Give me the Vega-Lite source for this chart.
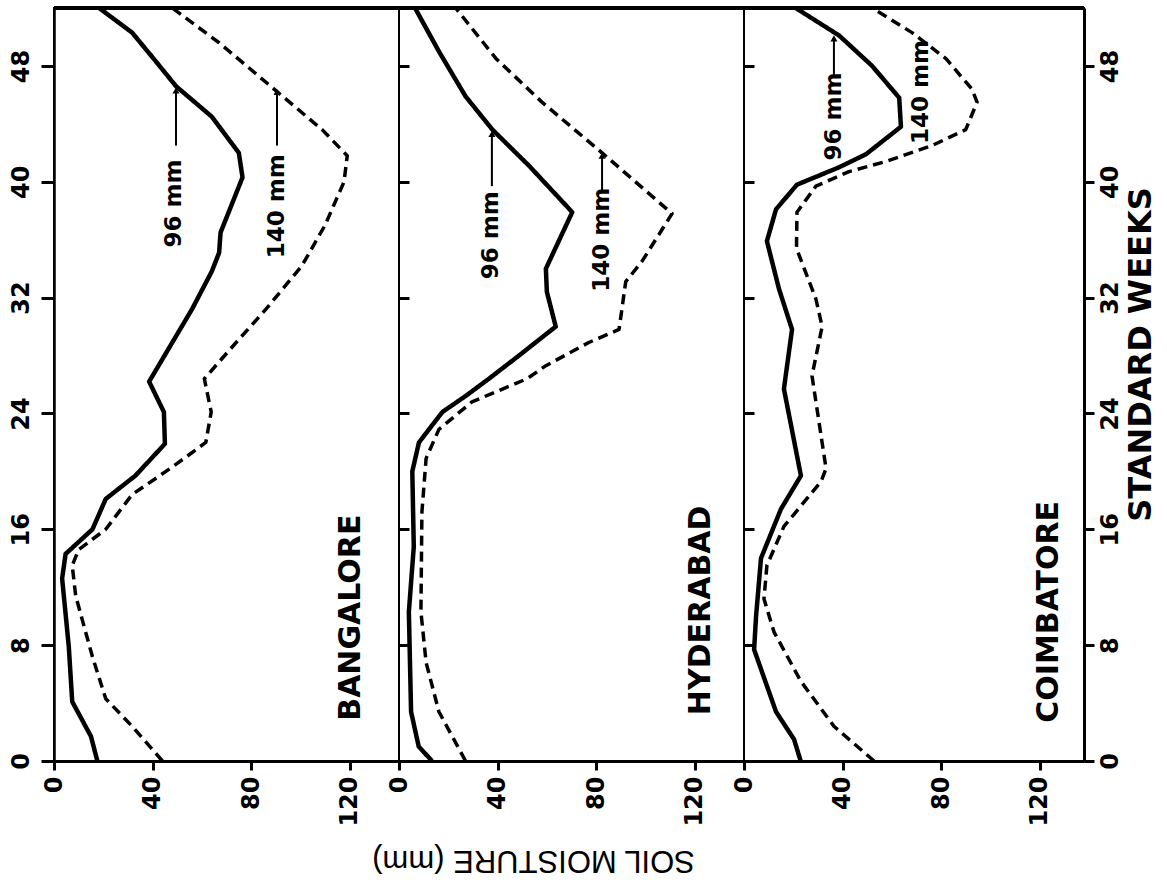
{
  "$schema": "https://vega.github.io/schema/vega-lite/v6.json",
  "padding": {"left": 7, "top": 4, "right": 0, "bottom": 45},
  "spacing": 0,
  "bounds": "flush",
  "config": {
    "view": {"stroke": "black", "strokeWidth": 2},
    "axis": {"domainColor": "black", "tickColor": "black", "labelColor": "black", "titleColor": "black", "grid": false}
  },
  "datasets": {
    "curves": [
      {"site":"BANGALORE","series":"96 mm","week":0,"mm":17.6},{"site":"BANGALORE","series":"96 mm","week":1.7,"mm":15},{"site":"BANGALORE","series":"96 mm","week":4.1,"mm":7.4},{"site":"BANGALORE","series":"96 mm","week":7.9,"mm":6},{"site":"BANGALORE","series":"96 mm","week":12.6,"mm":3.3},{"site":"BANGALORE","series":"96 mm","week":14.3,"mm":4.7},{"site":"BANGALORE","series":"96 mm","week":16,"mm":15.6},{"site":"BANGALORE","series":"96 mm","week":18.1,"mm":21},{"site":"BANGALORE","series":"96 mm","week":19.7,"mm":33},{"site":"BANGALORE","series":"96 mm","week":21.9,"mm":45},{"site":"BANGALORE","series":"96 mm","week":24.1,"mm":44.6},{"site":"BANGALORE","series":"96 mm","week":26.2,"mm":38.6},{"site":"BANGALORE","series":"96 mm","week":28.9,"mm":48},{"site":"BANGALORE","series":"96 mm","week":31.2,"mm":56},{"site":"BANGALORE","series":"96 mm","week":33.8,"mm":64},{"site":"BANGALORE","series":"96 mm","week":35.1,"mm":67},{"site":"BANGALORE","series":"96 mm","week":36.5,"mm":67.6},{"site":"BANGALORE","series":"96 mm","week":40.3,"mm":76.5},{"site":"BANGALORE","series":"96 mm","week":42,"mm":75},{"site":"BANGALORE","series":"96 mm","week":44.5,"mm":64},{"site":"BANGALORE","series":"96 mm","week":46.6,"mm":49.5},{"site":"BANGALORE","series":"96 mm","week":48.3,"mm":41.4},{"site":"BANGALORE","series":"96 mm","week":50.3,"mm":31.7},{"site":"BANGALORE","series":"96 mm","week":52,"mm":18.3},
      {"site":"BANGALORE","series":"140 mm","week":0,"mm":44},{"site":"BANGALORE","series":"140 mm","week":2.4,"mm":31.7},{"site":"BANGALORE","series":"140 mm","week":4.3,"mm":21},{"site":"BANGALORE","series":"140 mm","week":7.2,"mm":15.6},{"site":"BANGALORE","series":"140 mm","week":11.4,"mm":8.8},{"site":"BANGALORE","series":"140 mm","week":13.5,"mm":7.4},{"site":"BANGALORE","series":"140 mm","week":14.6,"mm":10},{"site":"BANGALORE","series":"140 mm","week":16,"mm":21},{"site":"BANGALORE","series":"140 mm","week":18.4,"mm":31.7},{"site":"BANGALORE","series":"140 mm","week":20.3,"mm":48},{"site":"BANGALORE","series":"140 mm","week":22,"mm":61.6},{"site":"BANGALORE","series":"140 mm","week":24.1,"mm":63.8},{"site":"BANGALORE","series":"140 mm","week":26.4,"mm":61},{"site":"BANGALORE","series":"140 mm","week":28.9,"mm":73.9},{"site":"BANGALORE","series":"140 mm","week":31.2,"mm":86},{"site":"BANGALORE","series":"140 mm","week":34.2,"mm":100.6},{"site":"BANGALORE","series":"140 mm","week":37,"mm":110},{"site":"BANGALORE","series":"140 mm","week":40,"mm":117.7},{"site":"BANGALORE","series":"140 mm","week":41.8,"mm":119},{"site":"BANGALORE","series":"140 mm","week":43.6,"mm":108.8},{"site":"BANGALORE","series":"140 mm","week":46.5,"mm":88.6},{"site":"BANGALORE","series":"140 mm","week":49.6,"mm":67},{"site":"BANGALORE","series":"140 mm","week":52,"mm":48},
      {"site":"HYDERABAD","series":"96 mm","week":0,"mm":13.4},{"site":"HYDERABAD","series":"96 mm","week":1,"mm":8},{"site":"HYDERABAD","series":"96 mm","week":3.4,"mm":4.9},{"site":"HYDERABAD","series":"96 mm","week":10.3,"mm":4},{"site":"HYDERABAD","series":"96 mm","week":14.8,"mm":6},{"site":"HYDERABAD","series":"96 mm","week":20,"mm":5.4},{"site":"HYDERABAD","series":"96 mm","week":22,"mm":8.1},{"site":"HYDERABAD","series":"96 mm","week":24.1,"mm":17.6},{"site":"HYDERABAD","series":"96 mm","week":25.2,"mm":27},{"site":"HYDERABAD","series":"96 mm","week":26.4,"mm":36.5},{"site":"HYDERABAD","series":"96 mm","week":28,"mm":48.7},{"site":"HYDERABAD","series":"96 mm","week":30,"mm":63.6},{"site":"HYDERABAD","series":"96 mm","week":32.4,"mm":60},{"site":"HYDERABAD","series":"96 mm","week":34,"mm":59.6},{"site":"HYDERABAD","series":"96 mm","week":37.9,"mm":70.3},{"site":"HYDERABAD","series":"96 mm","week":41.1,"mm":52.8},{"site":"HYDERABAD","series":"96 mm","week":43.6,"mm":37.9},{"site":"HYDERABAD","series":"96 mm","week":45.9,"mm":27},{"site":"HYDERABAD","series":"96 mm","week":49,"mm":16.2},{"site":"HYDERABAD","series":"96 mm","week":52,"mm":6.5},
      {"site":"HYDERABAD","series":"140 mm","week":0,"mm":27},{"site":"HYDERABAD","series":"140 mm","week":3.4,"mm":16.2},{"site":"HYDERABAD","series":"140 mm","week":6.8,"mm":11},{"site":"HYDERABAD","series":"140 mm","week":10.3,"mm":8.9},{"site":"HYDERABAD","series":"140 mm","week":17.2,"mm":9.3},{"site":"HYDERABAD","series":"140 mm","week":20.9,"mm":11},{"site":"HYDERABAD","series":"140 mm","week":22.9,"mm":16.2},{"site":"HYDERABAD","series":"140 mm","week":24.8,"mm":29.6},{"site":"HYDERABAD","series":"140 mm","week":26.4,"mm":52},{"site":"HYDERABAD","series":"140 mm","week":27.3,"mm":59.6},{"site":"HYDERABAD","series":"140 mm","week":28.9,"mm":77},{"site":"HYDERABAD","series":"140 mm","week":29.8,"mm":89.3},{"site":"HYDERABAD","series":"140 mm","week":33.1,"mm":92},{"site":"HYDERABAD","series":"140 mm","week":34.5,"mm":98.6},{"site":"HYDERABAD","series":"140 mm","week":37.8,"mm":110.8},{"site":"HYDERABAD","series":"140 mm","week":42,"mm":82.4},{"site":"HYDERABAD","series":"140 mm","week":45.5,"mm":58},{"site":"HYDERABAD","series":"140 mm","week":48.5,"mm":39.4},{"site":"HYDERABAD","series":"140 mm","week":52,"mm":23},
      {"site":"COIMBATORE","series":"96 mm","week":0,"mm":23},{"site":"COIMBATORE","series":"96 mm","week":1.5,"mm":20.3},{"site":"COIMBATORE","series":"96 mm","week":3.4,"mm":13},{"site":"COIMBATORE","series":"96 mm","week":7.7,"mm":4.1},{"site":"COIMBATORE","series":"96 mm","week":10,"mm":4.9},{"site":"COIMBATORE","series":"96 mm","week":14,"mm":6.9},{"site":"COIMBATORE","series":"96 mm","week":17.4,"mm":15},{"site":"COIMBATORE","series":"96 mm","week":19.7,"mm":23.1},{"site":"COIMBATORE","series":"96 mm","week":25.7,"mm":16.2},{"site":"COIMBATORE","series":"96 mm","week":29.8,"mm":19.5},{"site":"COIMBATORE","series":"96 mm","week":32.6,"mm":14.2},{"site":"COIMBATORE","series":"96 mm","week":35.9,"mm":9.3},{"site":"COIMBATORE","series":"96 mm","week":38.1,"mm":13},{"site":"COIMBATORE","series":"96 mm","week":39.8,"mm":21.5},{"site":"COIMBATORE","series":"96 mm","week":41,"mm":38.6},{"site":"COIMBATORE","series":"96 mm","week":41.9,"mm":49.5},{"site":"COIMBATORE","series":"96 mm","week":43.8,"mm":63.7},{"site":"COIMBATORE","series":"96 mm","week":45.8,"mm":63},{"site":"COIMBATORE","series":"96 mm","week":48,"mm":52},{"site":"COIMBATORE","series":"96 mm","week":50.1,"mm":38.6},{"site":"COIMBATORE","series":"96 mm","week":52,"mm":21},
      {"site":"COIMBATORE","series":"140 mm","week":0,"mm":52.8},{"site":"COIMBATORE","series":"140 mm","week":2.4,"mm":36.5},{"site":"COIMBATORE","series":"140 mm","week":5.5,"mm":23.1},{"site":"COIMBATORE","series":"140 mm","week":8.9,"mm":12.2},{"site":"COIMBATORE","series":"140 mm","week":11.2,"mm":8.1},{"site":"COIMBATORE","series":"140 mm","week":13.5,"mm":9.3},{"site":"COIMBATORE","series":"140 mm","week":16.2,"mm":16.2},{"site":"COIMBATORE","series":"140 mm","week":19.3,"mm":31.3},{"site":"COIMBATORE","series":"140 mm","week":20.2,"mm":33.3},{"site":"COIMBATORE","series":"140 mm","week":26.6,"mm":27.6},{"site":"COIMBATORE","series":"140 mm","week":30,"mm":31.7},{"site":"COIMBATORE","series":"140 mm","week":31.9,"mm":29.2},{"site":"COIMBATORE","series":"140 mm","week":35.4,"mm":21.3},{"site":"COIMBATORE","series":"140 mm","week":37.9,"mm":21.5},{"site":"COIMBATORE","series":"140 mm","week":39.7,"mm":29.2},{"site":"COIMBATORE","series":"140 mm","week":40.7,"mm":42.6},{"site":"COIMBATORE","series":"140 mm","week":41.4,"mm":57.6},{"site":"COIMBATORE","series":"140 mm","week":42.5,"mm":76.3},{"site":"COIMBATORE","series":"140 mm","week":43.6,"mm":90},{"site":"COIMBATORE","series":"140 mm","week":45.5,"mm":94.6},{"site":"COIMBATORE","series":"140 mm","week":46.4,"mm":92.5},{"site":"COIMBATORE","series":"140 mm","week":48.5,"mm":82},{"site":"COIMBATORE","series":"140 mm","week":50.3,"mm":68.2},{"site":"COIMBATORE","series":"140 mm","week":52,"mm":52}
    ],
    "arrows": [
      {"site":"BANGALORE","mm":49.5,"w1":42.5,"w2":46.3},
      {"site":"BANGALORE","mm":90.5,"w1":42.5,"w2":46.2},
      {"site":"HYDERABAD","mm":37.7,"w1":39.7,"w2":43.3},
      {"site":"HYDERABAD","mm":82.4,"w1":39.4,"w2":41.8},
      {"site":"COIMBATORE","mm":36.5,"w1":47.3,"w2":49.9}
    ],
    "notes": [
      {"site":"BANGALORE","label":"96 mm","mm":48.5,"week":38.5},
      {"site":"BANGALORE","label":"140 mm","mm":90.5,"week":38.3},
      {"site":"HYDERABAD","label":"96 mm","mm":37.5,"week":36.3},
      {"site":"HYDERABAD","label":"140 mm","mm":82.4,"week":36},
      {"site":"COIMBATORE","label":"96 mm","mm":36.5,"week":44.5},
      {"site":"COIMBATORE","label":"140 mm","mm":71.8,"week":46.2}
    ],
    "sites": [
      {"site":"BANGALORE","mm":120.5,"week":9.9},
      {"site":"HYDERABAD","mm":122.6,"week":10.4},
      {"site":"COIMBATORE","mm":123.8,"week":10.3}
    ]
  },
  "hconcat": [
    {
      "width": 345, "height": 753,
      "resolve": {"axis": {"y": "independent"}},
      "layer": [
        {"data": {"name": "curves"}, "transform": [{"filter": "datum.site === 'BANGALORE'"}],
         "mark": {"type": "line", "color": "black", "strokeCap": "butt", "strokeJoin": "round"},
         "encoding": {
           "x": {"field": "mm", "type": "quantitative", "scale": {"domain": [0, 140], "nice": false, "zero": false},
                 "axis": {"values": [0, 40, 80, 120], "labelAngle": 270, "labelAlign": "right", "labelBaseline": "middle", "labelFont": "DejaVu Sans", "labelFontWeight": "bold", "labelFontSize": 24, "labelPadding": 6, "tickSize": 9, "tickWidth": 3, "domainWidth": 3, "title": null, "labelOverlap": false, "labelFlush": false}},
           "y": {"field": "week", "type": "quantitative", "scale": {"domain": [0, 52], "nice": false, "zero": false},
                 "axis": {"values": [0, 8, 16, 24, 32, 40, 48], "labelAngle": 270, "labelAlign": "center", "labelBaseline": "bottom", "labelFont": "DejaVu Sans", "labelFontWeight": "bold", "labelFontSize": 24, "labelPadding": 8, "tickSize": 13, "tickWidth": 3, "domainWidth": 2.5, "title": null, "labelOverlap": false, "labelFlush": false}},
           "order": {"field": "week", "type": "quantitative"},
           "strokeDash": {"field": "series", "type": "nominal", "scale": {"domain": ["96 mm", "140 mm"], "range": [[1, 0], [10, 6]]}, "legend": null},
           "strokeWidth": {"field": "series", "type": "nominal", "scale": {"domain": ["96 mm", "140 mm"], "range": [4.5, 3.5]}, "legend": null}
         }},
        {"data": {"name": "arrows"}, "transform": [{"filter": "datum.site === 'BANGALORE'"}],
         "mark": {"type": "rule", "color": "black", "strokeWidth": 2},
         "encoding": {"x": {"field": "mm", "type": "quantitative"}, "y": {"field": "w1", "type": "quantitative", "axis": null}, "y2": {"field": "w2"}}},
        {"data": {"name": "arrows"}, "transform": [{"filter": "datum.site === 'BANGALORE'"}],
         "mark": {"type": "point", "shape": "triangle-up", "filled": true, "color": "black", "opacity": 1, "size": 50},
         "encoding": {"x": {"field": "mm", "type": "quantitative"}, "y": {"field": "w2", "type": "quantitative", "axis": null}}},
        {"data": {"name": "notes"}, "transform": [{"filter": "datum.site === 'BANGALORE'"}],
         "mark": {"type": "text", "angle": 270, "font": "DejaVu Sans", "fontWeight": "bold", "fontSize": 23, "color": "black", "align": "center", "baseline": "middle"},
         "encoding": {"x": {"field": "mm", "type": "quantitative"}, "y": {"field": "week", "type": "quantitative", "axis": null}, "text": {"field": "label"}}},
        {"data": {"name": "sites"}, "transform": [{"filter": "datum.site === 'BANGALORE'"}],
         "mark": {"type": "text", "angle": 270, "font": "DejaVu Sans", "fontWeight": "bold", "fontSize": 30, "color": "black", "align": "center", "baseline": "middle"},
         "encoding": {"x": {"field": "mm", "type": "quantitative"}, "y": {"field": "week", "type": "quantitative", "axis": null}, "text": {"field": "site"}}},
        {"data": {"values": [{}]}, "mark": {"type": "rule", "color": "black", "strokeWidth": 4},
         "encoding": {"y": {"datum": 52, "axis": {"orient": "right", "values": [0, 8, 16, 24, 32, 40, 48], "labels": false, "tickSize": 10, "tickWidth": 3, "domain": false, "title": null}}}}
      ]
    },
    {
      "width": 345, "height": 753,
      "resolve": {"axis": {"y": "independent"}},
      "layer": [
        {"data": {"name": "curves"}, "transform": [{"filter": "datum.site === 'HYDERABAD'"}],
         "mark": {"type": "line", "color": "black", "strokeCap": "butt", "strokeJoin": "round"},
         "encoding": {
           "x": {"field": "mm", "type": "quantitative", "scale": {"domain": [0, 140], "nice": false, "zero": false},
                 "axis": {"values": [0, 40, 80, 120], "labelAngle": 270, "labelAlign": "right", "labelBaseline": "middle", "labelFont": "DejaVu Sans", "labelFontWeight": "bold", "labelFontSize": 24, "labelPadding": 6, "tickSize": 9, "tickWidth": 3, "domainWidth": 3, "labelOverlap": false, "labelFlush": false,
                          "title": "SOIL MOISTURE (mm)", "titleAngle": 180, "titleFont": "Liberation Sans", "titleFontWeight": "normal", "titleFontSize": 31, "titleX": 134, "titleY": 98, "titleAlign": "center", "titleBaseline": "middle"}},
           "y": {"field": "week", "type": "quantitative", "scale": {"domain": [0, 52], "nice": false, "zero": false},
                 "axis": {"orient": "right", "values": [0, 8, 16, 24, 32, 40, 48], "labels": false, "tickSize": 10, "tickWidth": 3, "domain": false, "title": null}},
           "order": {"field": "week", "type": "quantitative"},
           "strokeDash": {"field": "series", "type": "nominal", "scale": {"domain": ["96 mm", "140 mm"], "range": [[1, 0], [10, 6]]}, "legend": null},
           "strokeWidth": {"field": "series", "type": "nominal", "scale": {"domain": ["96 mm", "140 mm"], "range": [4.5, 3.5]}, "legend": null}
         }},
        {"data": {"name": "arrows"}, "transform": [{"filter": "datum.site === 'HYDERABAD'"}],
         "mark": {"type": "rule", "color": "black", "strokeWidth": 2},
         "encoding": {"x": {"field": "mm", "type": "quantitative"}, "y": {"field": "w1", "type": "quantitative", "axis": null}, "y2": {"field": "w2"}}},
        {"data": {"name": "arrows"}, "transform": [{"filter": "datum.site === 'HYDERABAD'"}],
         "mark": {"type": "point", "shape": "triangle-up", "filled": true, "color": "black", "opacity": 1, "size": 50},
         "encoding": {"x": {"field": "mm", "type": "quantitative"}, "y": {"field": "w2", "type": "quantitative", "axis": null}}},
        {"data": {"name": "notes"}, "transform": [{"filter": "datum.site === 'HYDERABAD'"}],
         "mark": {"type": "text", "angle": 270, "font": "DejaVu Sans", "fontWeight": "bold", "fontSize": 23, "color": "black", "align": "center", "baseline": "middle"},
         "encoding": {"x": {"field": "mm", "type": "quantitative"}, "y": {"field": "week", "type": "quantitative", "axis": null}, "text": {"field": "label"}}},
        {"data": {"name": "sites"}, "transform": [{"filter": "datum.site === 'HYDERABAD'"}],
         "mark": {"type": "text", "angle": 270, "font": "DejaVu Sans", "fontWeight": "bold", "fontSize": 30, "color": "black", "align": "center", "baseline": "middle"},
         "encoding": {"x": {"field": "mm", "type": "quantitative"}, "y": {"field": "week", "type": "quantitative", "axis": null}, "text": {"field": "site"}}},
        {"data": {"values": [{}]}, "mark": {"type": "rule", "color": "black", "strokeWidth": 4}, "encoding": {"y": {"datum": 52, "axis": null}}}
      ]
    },
    {
      "width": 340, "height": 753,
      "resolve": {"axis": {"y": "independent"}},
      "layer": [
        {"data": {"name": "curves"}, "transform": [{"filter": "datum.site === 'COIMBATORE'"}],
         "mark": {"type": "line", "color": "black", "strokeCap": "butt", "strokeJoin": "round"},
         "encoding": {
           "x": {"field": "mm", "type": "quantitative", "scale": {"domain": [0, 138], "nice": false, "zero": false},
                 "axis": {"values": [0, 40, 80, 120], "labelAngle": 270, "labelAlign": "right", "labelBaseline": "middle", "labelFont": "DejaVu Sans", "labelFontWeight": "bold", "labelFontSize": 24, "labelPadding": 6, "tickSize": 9, "tickWidth": 3, "domainWidth": 3, "title": null, "labelOverlap": false, "labelFlush": false}},
           "y": {"field": "week", "type": "quantitative", "scale": {"domain": [0, 52], "nice": false, "zero": false},
                 "axis": {"orient": "right", "values": [0, 8, 16, 24, 32, 40, 48], "labelAngle": 270, "labelAlign": "center", "labelBaseline": "top", "labelFont": "DejaVu Sans", "labelFontWeight": "bold", "labelFontSize": 24, "labelPadding": 4, "tickSize": 10, "tickWidth": 3, "domainWidth": 3, "labelOverlap": false, "labelFlush": false,
                          "title": "STANDARD WEEKS", "titleAngle": 270, "titleFont": "DejaVu Sans", "titleFontWeight": "bold", "titleFontSize": 32, "titleX": 56, "titleY": 346, "titleAlign": "center", "titleBaseline": "middle"}},
           "order": {"field": "week", "type": "quantitative"},
           "strokeDash": {"field": "series", "type": "nominal", "scale": {"domain": ["96 mm", "140 mm"], "range": [[1, 0], [10, 6]]}, "legend": null},
           "strokeWidth": {"field": "series", "type": "nominal", "scale": {"domain": ["96 mm", "140 mm"], "range": [4.5, 3.5]}, "legend": null}
         }},
        {"data": {"name": "arrows"}, "transform": [{"filter": "datum.site === 'COIMBATORE'"}],
         "mark": {"type": "rule", "color": "black", "strokeWidth": 2},
         "encoding": {"x": {"field": "mm", "type": "quantitative"}, "y": {"field": "w1", "type": "quantitative", "axis": null}, "y2": {"field": "w2"}}},
        {"data": {"name": "arrows"}, "transform": [{"filter": "datum.site === 'COIMBATORE'"}],
         "mark": {"type": "point", "shape": "triangle-up", "filled": true, "color": "black", "opacity": 1, "size": 50},
         "encoding": {"x": {"field": "mm", "type": "quantitative"}, "y": {"field": "w2", "type": "quantitative", "axis": null}}},
        {"data": {"name": "notes"}, "transform": [{"filter": "datum.site === 'COIMBATORE'"}],
         "mark": {"type": "text", "angle": 270, "font": "DejaVu Sans", "fontWeight": "bold", "fontSize": 23, "color": "black", "align": "center", "baseline": "middle"},
         "encoding": {"x": {"field": "mm", "type": "quantitative"}, "y": {"field": "week", "type": "quantitative", "axis": null}, "text": {"field": "label"}}},
        {"data": {"name": "sites"}, "transform": [{"filter": "datum.site === 'COIMBATORE'"}],
         "mark": {"type": "text", "angle": 270, "font": "DejaVu Sans", "fontWeight": "bold", "fontSize": 30, "color": "black", "align": "center", "baseline": "middle"},
         "encoding": {"x": {"field": "mm", "type": "quantitative"}, "y": {"field": "week", "type": "quantitative", "axis": null}, "text": {"field": "site"}}},
        {"data": {"values": [{}]}, "mark": {"type": "rule", "color": "black", "strokeWidth": 4}, "encoding": {"y": {"datum": 52, "axis": null}}}
      ]
    }
  ]
}
